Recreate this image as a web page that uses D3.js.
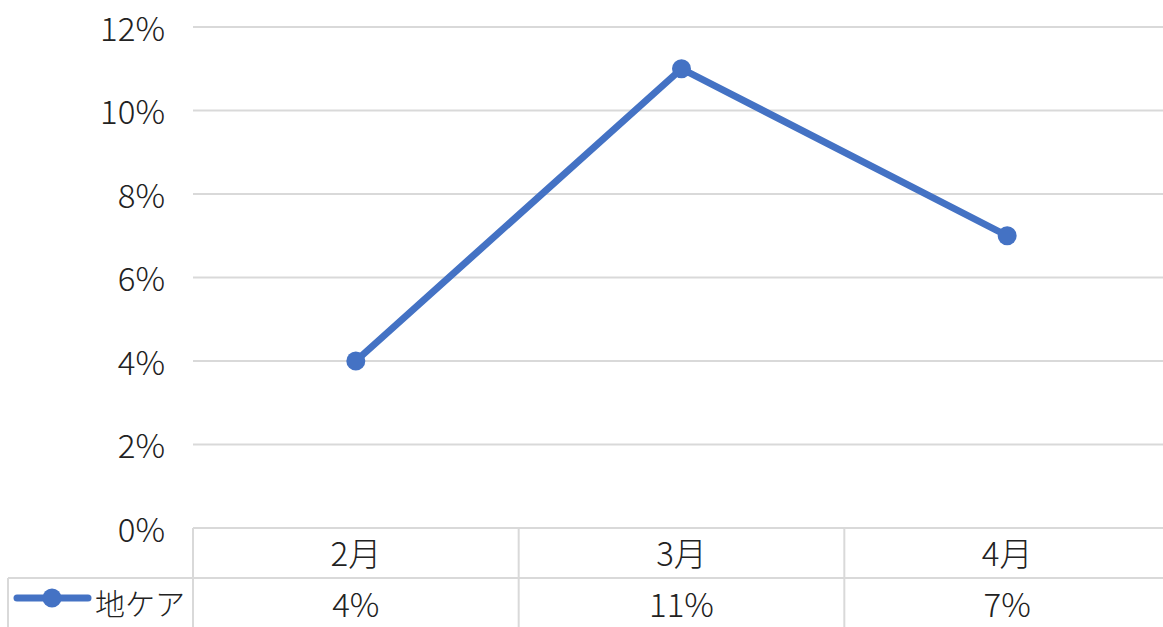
<!DOCTYPE html>
<html>
<head>
<meta charset="utf-8">
<script src="https://cdn.jsdelivr.net/npm/d3@7"></script>
<style>
  body { margin: 0; background: #fff; }
  svg { display: block; font-family: "Noto Sans CJK JP", "Noto Sans", sans-serif; font-weight: 300; }
</style>
</head>
<body>
<svg id="chart" width="1163" height="627"></svg>
<script>
var months = ['2月', '3月', '4月']
var values = [4, 11, 7]
var seriesName = '地ケア'
var yTicks = [0, 2, 4, 6, 8, 10, 12]

var svg = d3.select('#chart')
var plotLeft = 193, plotRight = 1170, plotTop = 27, plotBottom = 528
var rowH = 50
var fontSize = 33

var x = d3.scaleBand().domain(months).range([plotLeft, plotRight])
var y = d3.scaleLinear().domain([0, 12]).range([plotBottom, plotTop])

// gridlines
svg.selectAll('.grid')
    .data(yTicks)
    .join('line')
    .attr('x1', plotLeft)
    .attr('x2', plotRight)
    .attr('y1', d => y(d))
    .attr('y2', d => y(d))
    .attr('stroke', '#d9d9d9')
    .attr('stroke-width', 2)

// y labels
svg.selectAll('.ylab')
    .data(yTicks)
    .join('text')
    .attr('x', 165)
    .attr('y', d => y(d) + 2)
    .attr('dy', '0.35em')
    .attr('text-anchor', 'end')
    .attr('font-size', fontSize)
    .attr('fill', '#222')
    .text(d => d + '%')

// data table lines
var tableColor = '#d9d9d9'
svg.append('line')
    .attr('x1', 8).attr('x2', plotRight)
    .attr('y1', plotBottom + rowH).attr('y2', plotBottom + rowH)
    .attr('stroke', tableColor).attr('stroke-width', 2)
svg.append('line')
    .attr('x1', 8).attr('x2', 8)
    .attr('y1', plotBottom + rowH).attr('y2', 627)
    .attr('stroke', tableColor).attr('stroke-width', 2)
svg.selectAll('.vline')
    .data(months)
    .join('line')
    .attr('x1', d => x(d)).attr('x2', d => x(d))
    .attr('y1', plotBottom).attr('y2', 627)
    .attr('stroke', tableColor).attr('stroke-width', 2)

// category labels and values
svg.selectAll('.cat')
    .data(months)
    .join('text')
    .attr('x', d => x(d) + x.bandwidth() / 2)
    .attr('y', plotBottom + rowH / 2 + 1)
    .attr('dy', '0.35em')
    .attr('text-anchor', 'middle')
    .attr('font-size', fontSize)
    .attr('fill', '#222')
    .text(d => d)

svg.selectAll('.val')
    .data(values)
    .join('text')
    .attr('x', (d, i) => x(months[i]) + x.bandwidth() / 2)
    .attr('y', plotBottom + rowH + 27)
    .attr('dy', '0.35em')
    .attr('text-anchor', 'middle')
    .attr('font-size', fontSize)
    .attr('fill', '#222')
    .text(d => d + '%')

// the line
var blue = '#4472C4'
var line = d3.line()
    .x((d, i) => x(months[i]) + x.bandwidth() / 2)
    .y(d => y(d))

svg.append('path')
    .datum(values)
    .attr('d', line)
    .attr('fill', 'none')
    .attr('stroke', blue)
    .attr('stroke-width', 7)
    .attr('stroke-linejoin', 'round')

svg.selectAll('.dot')
    .data(values)
    .join('circle')
    .attr('cx', (d, i) => x(months[i]) + x.bandwidth() / 2)
    .attr('cy', d => y(d))
    .attr('r', 9.5)
    .attr('fill', blue)

// legend key
var ly = plotBottom + rowH + 20
svg.append('line')
    .attr('x1', 17).attr('x2', 88)
    .attr('y1', ly).attr('y2', ly)
    .attr('stroke', blue).attr('stroke-width', 7)
    .attr('stroke-linecap', 'round')
svg.append('circle')
    .attr('cx', 52).attr('cy', ly).attr('r', 9.5).attr('fill', blue)
svg.append('text')
    .attr('x', 95).attr('y', plotBottom + rowH + 26)
    .attr('dy', '0.35em')
    .attr('font-size', 30)
    .attr('fill', '#222')
    .text(seriesName)
</script>
</body>
</html>
